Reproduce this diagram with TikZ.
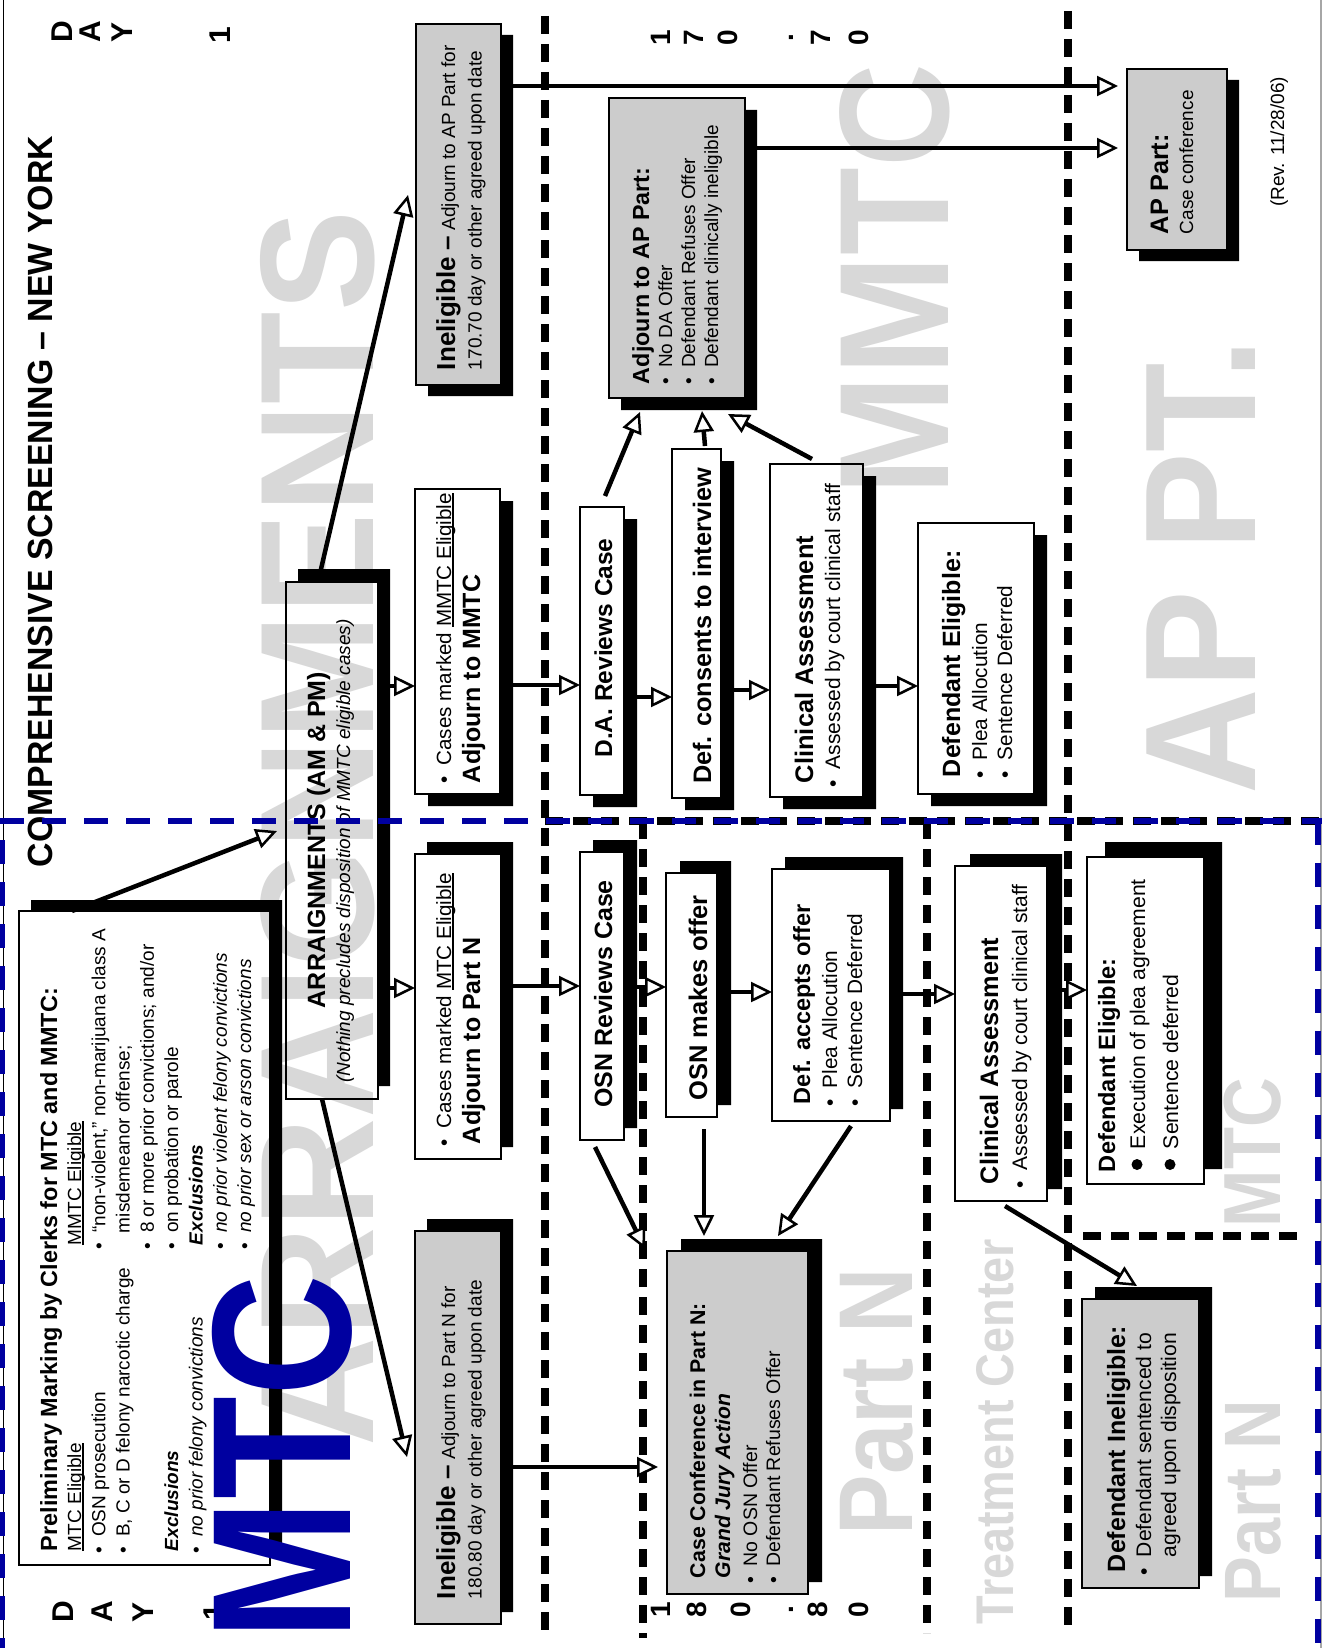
\documentclass[tikz,border=0pt]{standalone}
\usepackage{fontspec}
\setmainfont{Liberation Sans}
\usepackage{graphicx}
\usetikzlibrary{arrows.meta,calc,fit}
\definecolor{wm}{RGB}{216,216,216}
\definecolor{boxgray}{RGB}{204,204,204}
\definecolor{navy}{RGB}{0,0,160}
\newcommand\fsz[1]{\fontsize{#1}{#1}\selectfont}
\newsavebox\ulbox
\newcommand\ul[1]{\sbox\ulbox{#1}\rlap{\rule[-2.6pt]{\wd\ulbox}{1.4pt}}\usebox\ulbox}
\newcommand\bu{\textbullet\hspace{0.5em}}
\newcommand\tx[5][]{\node[tl,#1] (#2) at (#3,#4) {#5};}
% box with shadow down-right
\newcommand\bxd[8]{%
  \fill (#4,#3+#7) -- (#4+#6,#3+#7) -- (#4+#6,#5+#7) -- (#2+#6,#5+#7) -- (#2+#6,#5) -- (#4,#5) -- cycle;
  \node[boxnode,#8,fit={(#2,#3) (#4,#5)}] (#1) {};}
% box with shadow up-right
\newcommand\bxu[8]{%
  \fill (#2+#6,#3-#7) -- (#4+#6,#3-#7) -- (#4+#6,#5-#7) -- (#4,#5-#7) -- (#4,#3) -- (#2+#6,#3) -- cycle;
  \node[boxnode,#8,fit={(#2,#3) (#4,#5)}] (#1) {};}
\begin{document}
\begin{tikzpicture}[x=1pt,y=-1pt,
  boxnode/.style={draw,line width=1.8pt,inner sep=0pt,outer sep=0pt},
  tl/.style={rotate=90,anchor=base west,inner sep=0pt,outer sep=0pt},
  conn/.style={line width=4.5pt,-{Triangle[fill=white,length=21pt,width=20pt,line width=2.5pt]}},
  sconn/.style={conn,line width=3.2pt},
  bdash/.style={line width=7.5pt,dash pattern=on 18pt off 10pt},
  bldash/.style={draw=navy,line width=5.5pt,dash pattern=on 24pt off 18pt}]
\fill[white] (0,0) rectangle (1322,1648);
\useasboundingbox (0,0) rectangle (1322,1648);

% ---------- watermarks ----------
\tx[font={\fsz{162}\bfseries},text=wm]{wmA}{373}{1446}{\resizebox{1235pt}{\height}{ARRAIGNMENTS}}
\tx[font={\fsz{156}\bfseries},text=wm]{wmB}{948}{495}{\resizebox{431pt}{\height}{MMTC}}
\tx[font={\fsz{158}\bfseries},text=wm]{wmC}{1255}{794}{\resizebox{455pt}{\height}{AP PT.}}
\tx[font={\fsz{105}\bfseries},text=wm]{wmD}{912}{1535}{\resizebox{267pt}{\height}{Part N}}
\tx[font={\fsz{53}\bfseries},text=wm]{wmE}{1013}{1624}{\resizebox{385pt}{\height}{Treatment Center}}
\tx[font={\fsz{81}\bfseries},text=wm]{wmF}{1280}{1227}{\resizebox{149pt}{\height}{MTC}}
\tx[font={\fsz{80}\bfseries},text=wm]{wmG}{1280}{1602}{\resizebox{202pt}{\height}{Part N}}

% ---------- black dashed separators ----------
\draw[bdash] (545,16) -- (545,1631);
\draw[bdash] (643,821) -- (643,1638);
\draw[bdash] (927,821) -- (927,1633);
\draw[bdash] (1068,11) -- (1068,1633);
\draw[bdash] (545,821) -- (1322,821);
\draw[bdash] (1083,1236) -- (1300,1236);

% ---------- boxes ----------
\bxu{A}{19}{911}{270}{1565}{12}{11}{}
\bxu{B}{286}{582}{378}{1099}{12}{13}{}
\bxd{C}{416}{24}{501}{385}{12}{11}{fill=boxgray}
\bxd{D}{415}{489}{500}{794}{13}{12}{}
\bxu{E}{415}{854}{501}{1159}{12}{12}{}
\bxu{F}{415}{1231}{501}{1624}{12}{12}{fill=boxgray}
\bxd{G}{580}{507}{624}{795}{13}{12}{}
\bxd{H}{672}{449}{721}{798}{13}{12}{}
\bxd{I}{770}{464}{863}{797}{13}{12}{}
\bxd{J}{918}{523}{1034}{794}{13}{12}{}
\bxd{K}{609}{98}{745}{398}{12}{12}{fill=boxgray}
\bxd{L}{1127}{69}{1227}{250}{12}{11}{fill=boxgray}
\bxu{M}{580}{852}{624}{1140}{13}{12}{}
\bxu{N}{666}{873}{717}{1117}{14}{12}{}
\bxu{O}{772}{869}{890}{1121}{13}{12}{}
\bxu{P}{667}{1251}{808}{1594}{14}{12}{fill=boxgray}
\bxu{Q}{955}{866}{1047}{1201}{15}{12}{}
\bxu{R}{1087}{857}{1204}{1184}{18}{15}{}
\bxu{S}{1082}{1299}{1199}{1588}{13}{12}{fill=boxgray}

% ---------- connectors ----------
\draw[conn] (A.north -| 72,0) -- ($(B.west |- 0,831)+(-9,0)$);
\draw[conn] (B.north -| 318,0) -- ($(C.west |- 0,195)+(-8,0)$);
\draw[conn] (B.south -| 322,0) -- ($(F.west |- 0,1457)+(-8,0)$);
\draw[sconn] (B.east |- 0,686) -- (D.west |- 0,686);
\draw[sconn] (B.east |- 0,988) -- (E.west |- 0,988);
\draw[sconn] (D.east |- 0,685) -- (G.west |- 0,685);
\draw[sconn] (G.east |- 0,697) -- (H.west |- 0,697);
\draw[sconn] (H.east |- 0,690) -- (I.west |- 0,690);
\draw[sconn] (I.east |- 0,686) -- (J.west |- 0,686);
\draw[conn] ($(G.north -| 605,0)+(0,-11)$) -- ($(K.south -| 640,0)+(0,14)$);
\draw[conn] ($(H.north -| 705,0)+(0,-3)$) -- ($(K.south -| 702,0)+(0,13)$);
\draw[conn] ($(I.north -| 812,0)+(0,-5)$) -- ($(K.south -| 728,0)+(0,16)$);
\draw[conn,line width=4pt] (C.east |- 0,86) -- ($(L.west |- 0,86)+(-9,0)$);
\draw[conn,line width=4pt] (K.east |- 0,148) -- ($(L.west |- 0,148)+(-9,0)$);
\draw[sconn] (E.east |- 0,986) -- (M.west |- 0,986);
\draw[sconn] (M.east |- 0,987) -- (N.west |- 0,987);
\draw[sconn] (N.east |- 0,992) -- (O.west |- 0,992);
\draw[sconn] (O.east |- 0,994) -- (Q.west |- 0,994);
\draw[sconn] (Q.east |- 0,990) -- (R.west |- 0,990);
\draw[conn] ($(M.south -| 595,0)+(0,7)$) -- ($(P.north west)+(-22,-2)$);
\draw[conn,line width=4pt] ($(N.south -| 704,0)+(0,12)$) -- ($(P.north -| 704,0)+(0,-15)$);
\draw[conn] ($(O.south -| 851,0)+(0,5)$) -- ($(P.north -| 778,0)+(0,-15)$);
\draw[sconn] (F.east |- 0,1467) -- ($(P.west |- 0,1467)+(-9,0)$);
\draw[conn] ($(Q.south -| 1005,0)+(0,5)$) -- ($(S.north -| 1137,0)+(0,-13)$);

% ---------- free texts ----------
\tx[font={\fsz{35}\bfseries}]{title}{52}{867}{\resizebox{731pt}{\height}{COMPREHENSIVE SCREENING – NEW YORK}}
\tx[anchor=base,font={\fsz{30}\bfseries}]{dayD}{72}{32}{D}
\tx[anchor=base,font={\fsz{30}\bfseries}]{dayA}{100}{32}{A}
\tx[anchor=base,font={\fsz{30}\bfseries}]{dayY}{132}{32}{Y}
\tx[anchor=base,font={\fsz{30}\bfseries}]{dayI}{230}{35}{1}
\tx[anchor=base,font={\fsz{30}\bfseries}]{dayDb}{73}{1612}{D}
\tx[anchor=base,font={\fsz{30}\bfseries}]{dayAb}{112}{1612}{A}
\tx[anchor=base,font={\fsz{30}\bfseries}]{dayYb}{153}{1612}{Y}
\tx[anchor=base,font={\fsz{30}\bfseries}]{dayIb}{224}{1612}{1}
\tx[anchor=base,font={\fsz{28}\bfseries}]{ta1}{670}{38}{1}
\tx[anchor=base,font={\fsz{28}\bfseries}]{ta2}{703}{38}{7}
\tx[anchor=base,font={\fsz{28}\bfseries}]{ta3}{737}{38}{0}
\tx[anchor=base,font={\fsz{28}\bfseries}]{ta4}{793}{38}{.}
\tx[anchor=base,font={\fsz{28}\bfseries}]{ta5}{830}{38}{7}
\tx[anchor=base,font={\fsz{28}\bfseries}]{ta6}{868}{38}{0}
\tx[anchor=base,font={\fsz{28}\bfseries}]{tb1}{670}{1610}{1}
\tx[anchor=base,font={\fsz{28}\bfseries}]{tb2}{706}{1610}{8}
\tx[anchor=base,font={\fsz{28}\bfseries}]{tb3}{750}{1610}{0}
\tx[anchor=base,font={\fsz{28}\bfseries}]{tb4}{793}{1610}{.}
\tx[anchor=base,font={\fsz{28}\bfseries}]{tb5}{827}{1610}{8}
\tx[anchor=base,font={\fsz{28}\bfseries}]{tb6}{868}{1610}{0}
\tx[font=\fsz{19}]{rev}{1284}{207}{(Rev. 11/28/06)}

% ---------- box texts ----------
\tx[font={\fsz{23.4}\bfseries}]{aT}{57}{1551}{Preliminary Marking by Clerks for MTC and MMTC:}
\tx[font=\fsz{19}]{aL1}{81}{1551}{\ul{MTC Eligible}}
\tx[font=\fsz{19}]{aL2}{105.3}{1553}{\bu OSN prosecution}
\tx[font=\fsz{19}]{aL3}{129.6}{1553}{\bu B, C or D felony narcotic charge}
\tx[font={\fsz{19}\bfseries\itshape}]{aL4}{178.2}{1551}{Exclusions}
\tx[font=\fsz{19}]{aL5}{202.5}{1553}{\bu\textit{no prior felony convictions}}
\tx[font=\fsz{19}]{aR1}{81}{1245}{\ul{MMTC Eligible}}
\tx[font=\fsz{19}]{aR2}{105.3}{1249}{\bu “non-violent,” non-marijuana class A}
\tx[font=\fsz{19}]{aR3}{129.6}{1233}{misdemeanor offense;}
\tx[font=\fsz{19}]{aR4}{153.9}{1249}{\bu 8 or more prior convictions; and/or}
\tx[font=\fsz{19}]{aR5}{178.2}{1249}{\bu on probation or parole}
\tx[font={\fsz{19}\bfseries\itshape}]{aR6}{202.5}{1245}{Exclusions}
\tx[font=\fsz{19}]{aR7}{226.8}{1249}{\bu\textit{no prior violent felony convictions}}
\tx[font=\fsz{19}]{aR8}{251.1}{1249}{\bu\textit{no prior sex or arson convictions}}

\tx[anchor=base,font={\fsz{25}\bfseries}]{bT}{325}{840}{ARRAIGNMENTS (AM \& PM)}
\tx[anchor=base,font={\fsz{19}\itshape}]{bS}{350}{851}{(Nothing precludes disposition of MMTC eligible cases)}

\tx[font=\fsz{19}]{c1}{455}{370}{{\fsz{26}\bfseries Ineligible –} Adjourn to AP Part for}
\tx[font=\fsz{19}]{c2}{481.6}{370}{170.70 day or other agreed upon date}
\tx[font=\fsz{19}]{f1}{455}{1599}{{\fsz{26}\bfseries Ineligible –} Adjourn to Part N for}
\tx[font=\fsz{19}]{f2}{481.6}{1599}{180.80 day or other agreed upon date}

\tx[font=\fsz{20.6}]{d1}{451}{783}{\bu Cases marked \ul{MMTC Eligible}}
\tx[font={\fsz{25}\bfseries}]{d2}{480}{783}{Adjourn to MMTC}
\tx[font=\fsz{20.6}]{e1}{451}{1146}{\bu Cases marked \ul{MTC Eligible}}
\tx[font={\fsz{25}\bfseries}]{e2}{480}{1144}{Adjourn to Part N}

\tx[anchor=base,font={\fsz{24.5}\bfseries}]{g1}{612}{648}{D.A. Reviews Case}
\tx[anchor=base,font={\fsz{25.3}\bfseries}]{h1}{711}{626}{Def. consents to interview}
\tx[font={\fsz{25.4}\bfseries}]{i1}{813}{783}{Clinical Assessment}
\tx[font=\fsz{21}]{i2}{840}{787}{\bu Assessed by court clinical staff}
\tx[font={\fsz{25}\bfseries}]{j1}{960}{777}{Defendant Eligible:}
\tx[font=\fsz{20.8}]{j2}{987}{778}{\bu Plea Allocution}
\tx[font=\fsz{20.8}]{j3}{1012}{778}{\bu Sentence Deferred}
\tx[font={\fsz{23.3}\bfseries}]{k1}{649}{384}{Adjourn to AP Part:}
\tx[font=\fsz{19}]{k2}{672}{384}{\bu No DA Offer}
\tx[font=\fsz{19}]{k3}{695}{384}{\bu Defendant Refuses Offer}
\tx[font=\fsz{19}]{k4}{718}{384}{\bu Defendant clinically ineligible}
\tx[font={\fsz{25.3}\bfseries}]{l1}{1168}{234}{AP Part:}
\tx[font=\fsz{19}]{l2}{1193}{234}{Case conference}

\tx[anchor=base,font={\fsz{25}\bfseries}]{m1}{612}{994}{OSN Reviews Case}
\tx[anchor=base,font={\fsz{25.5}\bfseries}]{n1}{707}{998}{OSN makes offer}
\tx[font={\fsz{23.5}\bfseries}]{o1}{810}{1104}{Def. accepts offer}
\tx[font=\fsz{20.8}]{o2}{837}{1106}{\bu Plea Allocution}
\tx[font=\fsz{20.8}]{o3}{862}{1106}{\bu Sentence Deferred}
\tx[font={\fsz{21.3}\bfseries}]{p1}{705}{1578}{Case Conference in Part N:}
\tx[font={\fsz{21.1}\bfseries\itshape}]{p2}{730}{1578}{Grand Jury Action}
\tx[font=\fsz{19.5}]{p3}{757}{1583}{\bu No OSN Offer}
\tx[font=\fsz{19.5}]{p4}{780}{1583}{\bu Defendant Refuses Offer}
\tx[font={\fsz{25.3}\bfseries}]{q1}{998}{1184}{Clinical Assessment}
\tx[font=\fsz{21}]{q2}{1027}{1188}{\bu Assessed by court clinical staff}
\tx[font={\fsz{23.6}\bfseries}]{r1}{1115}{1172}{Defendant Eligible:}
\fill (1137,1164.5) circle (5.5pt);
\fill (1170,1164.5) circle (5.5pt);
\tx[font=\fsz{21.2}]{r2}{1145}{1149}{Execution of plea agreement}
\tx[font=\fsz{21.2}]{r3}{1178}{1149}{Sentence deferred}
\tx[font={\fsz{25}\bfseries}]{s1}{1125}{1572}{Defendant Ineligible:}
\tx[font=\fsz{21.1}]{s2}{1151}{1575}{\bu Defendant sentenced to}
\tx[font=\fsz{21.1}]{s3}{1176}{1557}{agreed upon disposition}

% ---------- borders and blue dashed frame ----------
\draw[line width=1.5pt] (3.5,0) -- (3.5,1648);
\draw[black!35,line width=1.5pt] (1321,0) -- (1321,1648);
\draw[bldash] (0,821) -- (1322,821);
\draw[bldash] (2.5,840) -- (2.5,1648);
\draw[bldash] (1318,821) -- (1318,1648);

% ---------- blue MTC ----------
\tx[font={\fsz{198}\bfseries},text=navy]{mtcBlue}{350}{1640}{\resizebox{365pt}{\height}{MTC}}
\end{tikzpicture}
\end{document}
